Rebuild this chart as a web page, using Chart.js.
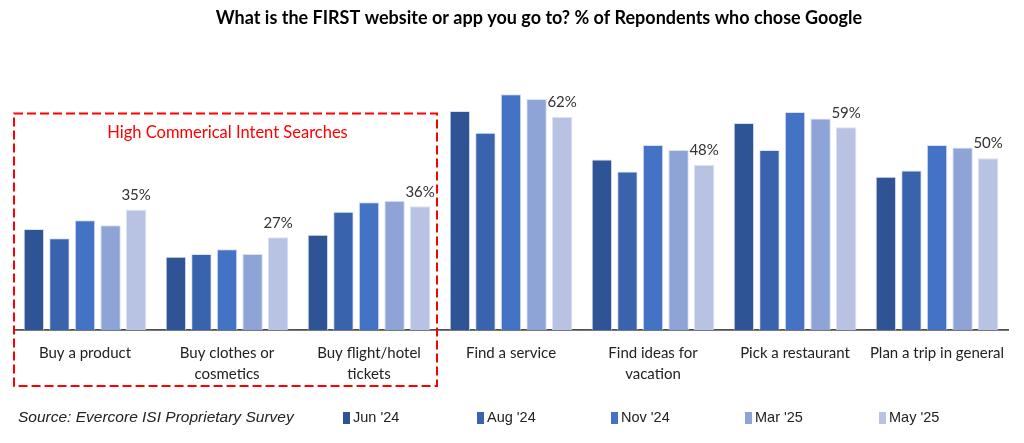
<!DOCTYPE html>
<html>
<head>
<meta charset="utf-8">
<script src="https://cdn.jsdelivr.net/npm/chart.js@4"></script>
<style>
  html, body { margin: 0; padding: 0; background: #fff; }
  #wrap { width: 1024px; height: 443px; position: relative; }
</style>
</head>
<body>
<div id="wrap"><canvas id="chart" width="1024" height="443"></canvas></div>
<script>
// categories (multi-line labels as in the source)
var categories = [
    ["Buy a product"],
    ["Buy clothes or", "cosmetics"],
    ["Buy flight/hotel", "tickets"],
    ["Find a service"],
    ["Find ideas for", "vacation"],
    ["Pick a restaurant"],
    ["Plan a trip in general"]
];
var waves = ["Jun '24", "Aug '24", "Nov '24", "Mar '25", "May '25"];

// % of respondents choosing Google
var jun24 = [29.4, 21.3, 27.7, 63.7, 49.6, 60.2, 44.6];
var aug24 = [26.7, 22.1, 34.4, 57.4, 46.1, 52.4, 46.4];
var nov24 = [31.9, 23.5, 37.2, 68.6, 53.8, 63.4, 53.8];
var mar25 = [30.5, 22.1, 37.6, 67.2, 52.4, 61.5, 53.1];
var may25 = [35, 27, 36, 62, 48, 59, 50];

var colors = ['#2F5496', '#3A63AE', '#4472C4', '#8EA4D6', '#B8C3E3'];
var seriesData = [jun24, aug24, nov24, mar25, may25];

var titleText = 'What is the FIRST website or app you go to? % of Repondents who chose Google';
var bodyFont = "Lato, 'Open Sans', sans-serif";
var narrowFont = "'Liberation Sans Narrow', 'Arial Narrow', 'Liberation Sans', sans-serif";

var datasets = seriesData.map(function(d, i) {
    return {
        label: waves[i],
        data: d,
        backgroundColor: colors[i],
        borderColor: 'rgba(215, 222, 242, 0.9)',
        borderWidth: 1,
        categoryPercentage: 0.9,
        barPercentage: 0.8
    };
});

// labels on the latest wave only
var lastLabels = {
    id: 'lastLabels',
    afterDatasetsDraw: function(chart) {
        var ctx = chart.ctx;
        var di = chart.data.datasets.length - 1;
        var meta = chart.getDatasetMeta(di);
        ctx.save();
        ctx.font = "15px " + bodyFont;
        ctx.fillStyle = '#333';
        ctx.textAlign = 'center';
        ctx.textBaseline = 'bottom';
        meta.data.forEach(function(bar, i) {
            var v = chart.data.datasets[di].data[i];
            ctx.fillText(v + '%', bar.x, bar.y - 7);
        });
        ctx.restore();
    }
};

// title, dashed box around the high-intent group, footer legend
var extras = {
    id: 'extras',
    afterDraw: function(chart) {
        var ctx = chart.ctx;
        var x = chart.scales.x, y = chart.scales.y;
        ctx.save();
        ctx.fillStyle = '#000';
        ctx.font = "bold 18px " + bodyFont;
        ctx.textAlign = 'center';
        ctx.textBaseline = 'middle';
        ctx.fillText(titleText, 539, 18);

        var step = x.getPixelForValue(1) - x.getPixelForValue(0);
        var left = x.getPixelForValue(0) - step / 2;
        var right = x.getPixelForValue(2) + step / 2 - 3;
        var top = y.getPixelForValue(63);
        var bottom = chart.chartArea.bottom + 56;
        ctx.strokeStyle = '#FF0000';
        ctx.lineWidth = 2;
        ctx.setLineDash([9, 4]);
        ctx.strokeRect(left, top, right - left, bottom - top);
        ctx.setLineDash([]);
        ctx.fillStyle = '#FF0000';
        ctx.font = "16.5px " + bodyFont;
        ctx.fillText('High Commerical Intent Searches', (left + right) / 2 + 2, top + 19);

        // footer
        var fy = 418;
        ctx.fillStyle = '#222';
        ctx.textAlign = 'left';
        ctx.font = "italic 15.5px " + narrowFont;
        ctx.fillText('Source: Evercore ISI Proprietary Survey', 18, fy);
        ctx.font = "14.5px " + narrowFont;
        chart.data.datasets.forEach(function(ds, i) {
            var lx = 343 + i * 134;
            ctx.fillStyle = ds.backgroundColor;
            ctx.fillRect(lx, fy - 6, 7, 12);
            ctx.fillStyle = '#222';
            ctx.fillText(ds.label, lx + 10, fy);
        });
        ctx.restore();
    }
};

var ctx = document.getElementById("chart").getContext('2d');
var mychart = new Chart(ctx, {
    type: 'bar',
    data: {
        labels: categories,
        datasets: datasets
    },
    options: {
        responsive: false,
        animation: false,
        layout: { padding: { left: 14, right: 16, top: 55, bottom: 0 } },
        plugins: {
            legend: { display: false },
            tooltip: { enabled: false },
            title: { display: false }
        },
        scales: {
            x: {
                grid: { display: false },
                border: { color: '#4d4d4d', width: 1.8 },
                ticks: {
                    color: '#222',
                    font: { family: bodyFont, size: 15, lineHeight: 1.4 },
                    padding: 5,
                    maxRotation: 0,
                    autoSkip: false
                },
                afterFit: function(scale) { scale.height = 113; }
            },
            y: {
                display: false,
                min: 0,
                max: 80
            }
        }
    },
    plugins: [lastLabels, extras]
});
</script>
</body>
</html>
